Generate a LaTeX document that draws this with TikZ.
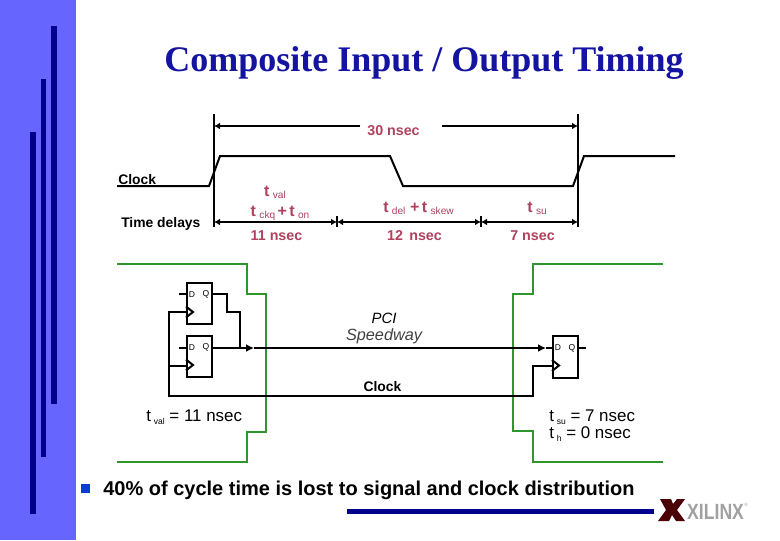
\documentclass[tikz,border=0pt]{standalone}
\usepackage{fontspec}
\setmainfont{Liberation Sans}
\newfontfamily\titlefont{Liberation Serif}
\usetikzlibrary{calc,arrows.meta,positioning}
\definecolor{sidebar}{RGB}{102,102,255}
\definecolor{barblue}{RGB}{0,0,140}
\definecolor{titleblue}{RGB}{20,20,160}
\definecolor{delayrose}{RGB}{175,65,95}
\definecolor{tracegreen}{RGB}{45,150,45}
\definecolor{bulletblue}{RGB}{10,60,210}
\definecolor{logored}{RGB}{75,0,5}
\definecolor{logogray}{RGB}{160,160,160}
\newcommand{\tsub}[1]{\raisebox{-2.5pt}{\fontsize{6.4pt}{7pt}\selectfont\mdseries\,\,#1}}
\newcommand{\dsub}[1]{{\fontsize{12pt}{12pt}\selectfont t}\raisebox{-1.5pt}{\fontsize{7.6pt}{8pt}\selectfont\mdseries\,\,#1}}
\newcommand{\dplus}{{\fontsize{12pt}{12pt}\selectfont +}}
\tikzset{
  sig/.style={line width=1.5pt, line join=miter},
  dim/.style={sig, -{Latex[length=4.5pt,width=5pt]}},
  dimb/.style={sig, {Latex[length=4.5pt,width=5pt]}-{Latex[length=4.5pt,width=5pt]}},
  busarrow/.style={sig, -{Latex[length=6pt,width=6pt]}},
  trace/.style={line width=1.5pt, tracegreen},
  ffbox/.style={rectangle, draw, line width=1.5pt, minimum width=18.75pt,
                minimum height=31pt, inner sep=0pt},
  pinlab/.style={font=\fontsize{6.4pt}{7pt}\selectfont, inner sep=0pt},
  rowlab/.style={font=\fontsize{10.4pt}{11pt}\selectfont\bfseries, inner sep=0pt},
  delay/.style={font=\fontsize{10.7pt}{12pt}\selectfont\bfseries, text=delayrose, inner sep=0pt},
  spec/.style={font=\fontsize{12.7pt}{13pt}\selectfont, inner sep=0pt},
  sidebarline/.style={fill=barblue, draw=none},
}
\begin{document}
\begin{tikzpicture}[x=0.75pt, y=-0.75pt]
  \useasboundingbox (0,0) rectangle (780,540);
  \fill[sidebar] (0,0) rectangle (76,540);
  \foreach \xa/\xb/\ya/\yb in {51/57/26/404, 41/46/79/457, 30/36/132/514} {
    \path[sidebarline] (\xa,\ya) rectangle (\xb,\yb);
  }
  \path[sidebarline] (347,509) rectangle (654,513.5);

  \node[font=\titlefont\fontsize{27pt}{30pt}\selectfont\bfseries, text=titleblue, inner sep=0pt]
    (title) at (424,63) {Composite Input / Output Timing};

  % timing part
  \coordinate (ta) at (214,114);
  \coordinate (tb) at (214,227);
  \coordinate (tc) at (578,114);
  \coordinate (td) at (578,227);
  \draw[sig] (ta) -- (tb);
  \draw[sig] (tc) -- (td);
  \node[delay] (period) at (393.5,130.5) {30 nsec};
  \coordinate (pa) at (360,126);
  \coordinate (pb) at (442,126);
  \draw[dim] (pa) -- (pa -| ta);
  \draw[dim] (pb) -- (pb -| tc);
  \node[rowlab, anchor=west] (clocklab) at (118,179.5) {Clock};
  \coordinate (ca) at (117,186);
  \coordinate (cb) at (209,186);
  \coordinate (cc) at (220,156);
  \coordinate (cd) at (390,156);
  \coordinate (ce) at (403,186);
  \coordinate (cf) at (573,186);
  \coordinate (cg) at (584,156);
  \coordinate (ch) at (675,156);
  \draw[sig] (ca) -- (cb) -- (cc) -- (cd) -- (ce) -- (cf) -- (cg) -- (ch);
  \node[rowlab, anchor=west] (delaylab) at (121,223.5) {Time delays};
  \coordinate (da) at (214,222);
  \coordinate (db) at (337,222);
  \coordinate (dc) at (481,222);
  \coordinate (dd) at (578,222);
  \draw[dimb] (da) -- (db);
  \draw[dimb] (db) -- (dc);
  \draw[dimb] (dc) -- (dd);
  \foreach \n in {db,dc} {
    \draw[sig] ($(\n)+(0,-6)$) -- ($(\n)+(0,5)$);
  }
  \node[delay] (tval) at (275,192) {\dsub{val}};
  \node[delay] (tckq) at (280,213.5) {\dsub{ckq}\,\dplus\,\dsub{on}};
  \node[delay] (tdel) at (418.5,208) {\dsub{del}\,\,\dplus\,\dsub{skew}};
  \node[delay] (tsu) at (537,208) {\dsub{su}};
  \node[delay] (ela) at (276.5,235.5) {11 nsec};
  \node[delay] (twe) at (414.5,235.5) {12\, nsec};
  \node[delay] (sev) at (532.5,235.5) {7 nsec};

  % green boundaries
  \coordinate (gla) at (117,264);
  \coordinate (glb) at (247,294);
  \coordinate (glc) at (266,432);
  \coordinate (gld) at (247,462);
  \coordinate (gle) at (117,462);
  \draw[trace] (gla) -| (glb) -| (glc) -| (gld) -- (gle);
  \coordinate (gra) at (663,264);
  \coordinate (grb) at (533,294);
  \coordinate (grc) at (513,431);
  \coordinate (grd) at (533,462);
  \coordinate (gre) at (663,462);
  \draw[trace] (gra) -| (grb) -| (grc) -| (grd) -- (gre);

  % flip flops
  \foreach \n/\x/\y in {ffa/199.5/303.5, ffb/199.5/356.5, ffc/565.5/357} {
    \node[ffbox] (\n) at (\x,\y) {};
    \node[pinlab] (\n d) at ($(\n.center)+(-7.5,-9)$) {D};
    \node[pinlab] (\n q) at ($(\n.center)+(6.5,-9)$) {Q};
    \draw[sig] ($(\n.west)+(0,3)$) -- ($(\n.west)+(7,8.5)$) -- ($(\n.west)+(0,14)$);
  }
  \coordinate (ffain) at (179,294);
  \coordinate (ffbin) at (179,348);
  \draw[sig] (ffain) -- (ffain -| ffa.west);
  \draw[sig] (ffbin) -- (ffbin -| ffb.west);
  \coordinate (qa) at (227,294);
  \coordinate (qb) at (240,312);
  \coordinate (qc) at (240,348);
  \coordinate (qd) at (586,348);
  \draw[sig] (qa -| ffa.east) -- (qa) |- (qb) -- (qc);
  \coordinate (bua) at (254,348);
  \coordinate (bub) at (546,348);
  \draw[busarrow] (bua -| ffb.east) -- (bua);
  \draw[busarrow] (bua) -- (bub);
  \draw[sig] (bub) -- (bub -| ffc.west);
  \draw[sig] (qd -| ffc.east) -- (qd);
  \coordinate (cka) at (169,312);
  \coordinate (ckb) at (169,396);
  \coordinate (ckc) at (533,396);
  \coordinate (ckd) at (533,366);
  \coordinate (cke) at (169,366);
  \draw[sig] (cka -| ffa.west) -- (cka) -- (ckb) -- (ckc) -- (ckd) -- (ckd -| ffc.west);
  \draw[sig] (cke) -- (cke -| ffb.west);

  \node[font=\fontsize{11.2pt}{12pt}\selectfont\itshape, inner sep=0pt] (pci) at (384,318) {PCI};
  \node[font=\fontsize{12.2pt}{13pt}\selectfont\itshape, text=black!75, inner sep=0pt] (speed) at (384,336) {Speedway};
  \node[rowlab] (clockb) at (382.5,386.5) {Clock};
  \node[spec, anchor=west] (val) at (146,417) {t\tsub{val} = 11 nsec};
  \node[spec, anchor=west] (su) at (549,417) {t\tsub{su} = 7 nsec};
  \node[spec, anchor=west] (hold) at (549,434) {t\tsub{h} = 0 nsec};

  \fill[bulletblue] (81,484) rectangle (90,493);
  \node[font=\fontsize{15pt}{18pt}\selectfont\bfseries, anchor=west, inner sep=0pt] (note)
    at (103,490) {40\% of cycle time is lost to signal and clock distribution};

  % logo
  \fill[logored] (660,499) -- (671,499) -- (673,504) -- (677,499) -- (685,499) -- (677,510)
    -- (685,521) -- (676,521) -- (672,515) -- (669,521) -- (658,521) -- (666,510) -- cycle;
  \node[font=\fontsize{16.5pt}{17pt}\selectfont\bfseries, text=logogray, anchor=west, inner sep=0pt,
    xscale=0.8] (xilinx) at (687,511.5) {XILINX};
  \node[font=\fontsize{3.5pt}{4pt}\selectfont, text=logogray, inner sep=0pt] (reg) at (746,505) {®};
\end{tikzpicture}
\end{document}
